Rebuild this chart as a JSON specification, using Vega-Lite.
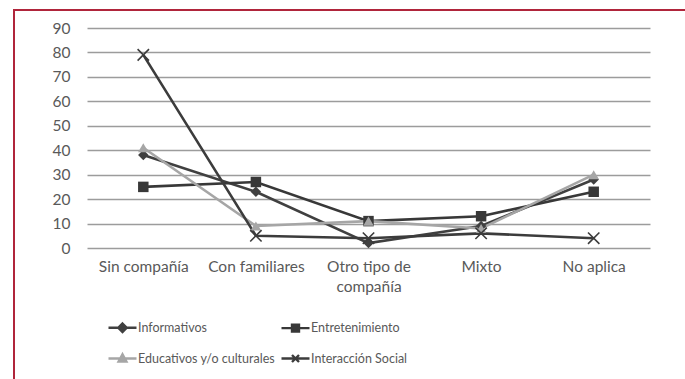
{
  "$schema": "https://vega.github.io/schema/vega-lite/v6.json",
  "autosize": {"type": "none"},
  "width": 674,
  "height": 372,
  "padding": {"left": 14, "top": 10, "right": -3, "bottom": -3},
  "background": "white",
  "config": {
    "view": {"stroke": "#B0253B", "strokeWidth": 2},
    "font": "Lato",
    "axis": {"labelFont": "Lato", "labelColor": "#595959", "labelFontSize": 15.5},
    "legend": {"labelFont": "Lato", "labelColor": "#595959", "labelFontSize": 12.5}
  },
  "data": {
    "values": [
      {"lugar": "Sin compañía", "serie": "Informativos", "valor": 38},
      {"lugar": "Con familiares", "serie": "Informativos", "valor": 23},
      {"lugar": "Otro tipo de compañía", "serie": "Informativos", "valor": 2},
      {"lugar": "Mixto", "serie": "Informativos", "valor": 9},
      {"lugar": "No aplica", "serie": "Informativos", "valor": 28},
      {"lugar": "Sin compañía", "serie": "Entretenimiento", "valor": 25},
      {"lugar": "Con familiares", "serie": "Entretenimiento", "valor": 27},
      {"lugar": "Otro tipo de compañía", "serie": "Entretenimiento", "valor": 11},
      {"lugar": "Mixto", "serie": "Entretenimiento", "valor": 13},
      {"lugar": "No aplica", "serie": "Entretenimiento", "valor": 23},
      {"lugar": "Sin compañía", "serie": "Educativos y/o culturales", "valor": 41},
      {"lugar": "Con familiares", "serie": "Educativos y/o culturales", "valor": 9},
      {"lugar": "Otro tipo de compañía", "serie": "Educativos y/o culturales", "valor": 11},
      {"lugar": "Mixto", "serie": "Educativos y/o culturales", "valor": 8},
      {"lugar": "No aplica", "serie": "Educativos y/o culturales", "valor": 30},
      {"lugar": "Sin compañía", "serie": "Interacción Social", "valor": 79},
      {"lugar": "Con familiares", "serie": "Interacción Social", "valor": 5},
      {"lugar": "Otro tipo de compañía", "serie": "Interacción Social", "valor": 4},
      {"lugar": "Mixto", "serie": "Interacción Social", "valor": 6},
      {"lugar": "No aplica", "serie": "Interacción Social", "valor": 4}
    ]
  },
  "encoding": {
    "x": {
      "field": "lugar",
      "type": "nominal",
      "sort": ["Sin compañía", "Con familiares", "Otro tipo de compañía", "Mixto", "No aplica"],
      "scale": {"type": "point", "range": [73, 636], "padding": 0.5},
      "axis": {
        "title": null,
        "orient": "bottom",
        "offset": -134,
        "domain": false,
        "ticks": false,
        "grid": false,
        "labelAngle": 0,
        "labelPadding": 11,
        "labelLineHeight": 20,
        "labelExpr": "datum.label == 'Otro tipo de compañía' ? ['Otro tipo de', 'compañía'] : datum.label"
      }
    },
    "y": {
      "field": "valor",
      "type": "quantitative",
      "scale": {"domain": [0, 90], "range": [238, 18], "nice": false},
      "axis": {
        "title": null,
        "orient": "left",
        "offset": -73,
        "values": [0, 10, 20, 30, 40, 50, 60, 70, 80, 90],
        "domain": false,
        "ticks": false,
        "grid": true,
        "gridColor": "#9c9c9c",
        "gridWidth": 1.6,
        "labelPadding": 17
      }
    },
    "color": {
      "field": "serie",
      "type": "nominal",
      "scale": {
        "domain": ["Informativos", "Entretenimiento", "Educativos y/o culturales", "Interacción Social"],
        "range": ["#404040", "#383838", "#a6a6a6", "#3c3c3c"]
      },
      "legend": {
        "title": null,
        "orient": "none",
        "legendX": 93,
        "legendY": 302,
        "direction": "horizontal",
        "columns": 2,
        "padding": 0,
        "rowPadding": 6,
        "columnPadding": 0,
        "labelOffset": 0,
        "labelLimit": 0,
        "symbolSize": 784,
        "symbolStrokeWidth": 2.4,
        "symbolOpacity": 1
      }
    }
  },
  "layer": [
    {
      "mark": {"type": "line", "strokeWidth": 2.6}
    },
    {
      "description": "legend keys: a short line with the series marker on it",
      "mark": {"type": "point", "filled": true, "opacity": 0},
      "encoding": {
        "shape": {
          "field": "serie",
          "type": "nominal",
          "scale": {
            "domain": ["Informativos", "Entretenimiento", "Educativos y/o culturales", "Interacción Social"],
            "range": [
              "M-1,0H1M0,-0.3L0.3,0L0,0.3L-0.3,0Z",
              "M-1,0H1M-0.25,-0.25H0.25V0.25H-0.25Z",
              "M-1,0H1M0,-0.3L0.28,0.22H-0.28Z",
              "M-1,0H1M-0.25,-0.25L0.25,0.25M-0.25,0.25L0.25,-0.25"
            ]
          }
        },
        "stroke": {
          "field": "serie",
          "type": "nominal",
          "scale": {
            "domain": ["Informativos", "Entretenimiento", "Educativos y/o culturales", "Interacción Social"],
            "range": ["#404040", "#383838", "#a6a6a6", "#3c3c3c"]
          }
        }
      }
    },
    {
      "transform": [{"filter": "datum.serie === 'Informativos'"}],
      "mark": {"type": "point", "filled": true, "shape": "diamond", "size": 110, "opacity": 1}
    },
    {
      "transform": [{"filter": "datum.serie === 'Entretenimiento'"}],
      "mark": {"type": "point", "filled": true, "shape": "square", "size": 110, "opacity": 1}
    },
    {
      "transform": [{"filter": "datum.serie === 'Educativos y/o culturales'"}],
      "mark": {"type": "point", "filled": true, "shape": "triangle-up", "size": 110, "opacity": 1}
    },
    {
      "transform": [{"filter": "datum.serie === 'Interacción Social'"}],
      "mark": {"type": "point", "filled": false, "shape": "M-1,-1L1,1M-1,1L1,-1", "size": 130, "strokeWidth": 1.6, "opacity": 1}
    }
  ]
}
